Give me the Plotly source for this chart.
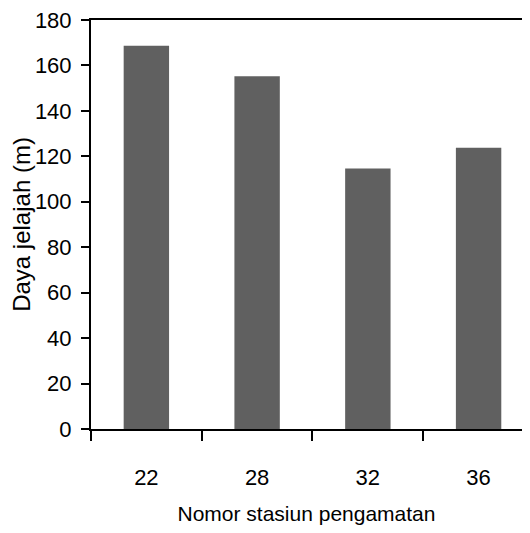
import plotly.graph_objects as go

stations = ["22", "28", "32", "36"]
daya_jelajah = [168.7, 155.2, 114.6, 123.8]
y_ticks = [0, 20, 40, 60, 80, 100, 120, 140, 160, 180]

font_main = "Liberation Sans, Arial, sans-serif"

fig = go.Figure(
    go.Bar(
        x=stations,
        y=daya_jelajah,
        width=0.41,
        marker=dict(color="#606060", line=dict(width=0)),
    )
)

# page body has an 8px margin: the figure starts at (8, 8)
fig.update_layout(
    width=514,
    height=517,
    margin=dict(l=83, r=0, t=12, b=96),
    paper_bgcolor="white",
    plot_bgcolor="white",
    showlegend=False,
    xaxis=dict(
        type="category",
        range=[-0.5, 3.392],
        showline=True,
        linecolor="black",
        linewidth=2,
        mirror=True,
        ticks="outside",
        tickson="boundaries",
        ticklen=10,
        tickwidth=2,
        tickcolor="black",
        ticklabelstandoff=28,
        showgrid=False,
        zeroline=False,
        tickfont=dict(family=font_main, size=22, color="black"),
        title=dict(text="Nomor stasiun pengamatan", standoff=18,
                   font=dict(family=font_main, size=21, color="black")),
        automargin=False,
    ),
    yaxis=dict(
        range=[0, 180],
        tickvals=y_ticks,
        showline=True,
        linecolor="black",
        linewidth=2,
        ticks="outside",
        ticklen=8,
        tickwidth=2,
        tickcolor="black",
        ticklabelstandoff=5,
        ticklabeloverflow="allow",
        showgrid=False,
        zeroline=False,
        tickfont=dict(family=font_main, size=22, color="black"),
        title=dict(text="Daya jelajah (m)", standoff=3,
                   font=dict(family=font_main, size=24, color="black")),
        automargin=False,
    ),
)

fig.write_html("out.html")
